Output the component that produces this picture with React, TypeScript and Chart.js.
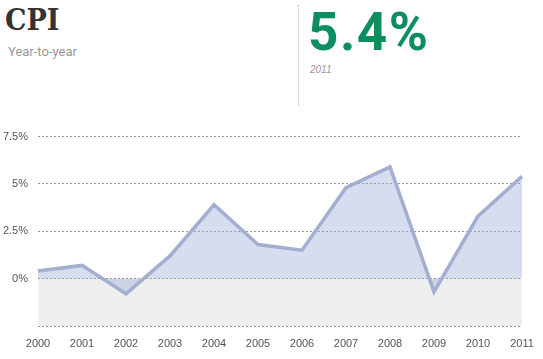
import React, { useEffect, useRef } from "react";
import { Chart, registerables } from "chart.js";

Chart.register(...registerables);

const years = ["2000","2001","2002","2003","2004","2005","2006","2007","2008","2009","2010","2011"];
const cpi = [0.4, 0.7, -0.8, 1.2, 3.9, 1.8, 1.5, 4.8, 5.9, -0.7, 3.3, 5.4];
const yTicks = [-2.5, 0, 2.5, 5, 7.5];
const yTickLabels = ["", "0%", "2.5%", "5%", "7.5%"];

const belowZeroPlugin = {
  id: "belowZero",
  beforeDraw(chart: any) {
    const { ctx, chartArea, scales } = chart;
    const y0 = scales.y.getPixelForValue(0);
    ctx.save();
    ctx.fillStyle = "#efefef";
    ctx.fillRect(chartArea.left, y0, chartArea.right - chartArea.left, chartArea.bottom - y0);
    ctx.restore();
  },
};

export default function App() {
  const ref = useRef<HTMLCanvasElement | null>(null);
  useEffect(() => {
    if (!ref.current) return;
    const chart = new Chart(ref.current, {
      type: "line",
      data: {
        labels: years,
        datasets: [
          {
            data: cpi,
            borderColor: "rgb(163,174,208)",
            borderWidth: 3.5,
            backgroundColor: "rgba(138,161,212,0.36)",
            fill: "origin",
            pointRadius: 0,
            tension: 0,
          },
        ],
      },
      options: {
        animation: false,
        responsive: false,
        maintainAspectRatio: false,
        layout: { padding: { top: 15, right: 21, bottom: 0, left: 0 } },
        plugins: { legend: { display: false }, tooltip: { enabled: false } },
        scales: {
          x: {
            offset: false,
            grid: { display: false },
            border: { display: false },
            ticks: {
              color: "#555",
              font: { family: "Liberation Sans, Arial", size: 11 },
              padding: 3,
              maxRotation: 0,
              autoSkip: false,
            },
            afterFit(scale: any) {
              scale.height = 33;
            },
          },
          y: {
            min: -2.5,
            max: 7.5,
            afterBuildTicks(scale: any) {
              scale.ticks = yTicks.map((v) => ({ value: v }));
            },
            grid: {
              color: "#999",
              lineWidth: 1,
              drawTicks: false,
            },
            border: { display: false, dash: [2, 2] },
            ticks: {
              color: "#555",
              font: { family: "Liberation Sans, Arial", size: 11 },
              padding: 10,
              callback: (v: any) => {
                const i = yTicks.indexOf(Number(v));
                return i >= 0 ? yTickLabels[i] : "";
              },
            },
            afterFit(scale: any) {
              scale.width = 38;
            },
          },
        },
      },
      plugins: [belowZeroPlugin],
    } as any);
    return () => chart.destroy();
  }, []);

  return (
    <div style={{ position: "absolute", left: 0, top: 0, width: 543, height: 359, background: "#fff", overflow: "hidden" }}>
      <div style={{ position: "absolute", left: 5, top: 2, fontFamily: "DejaVu Serif Condensed, DejaVu Serif", fontWeight: "bold", fontSize: 30, color: "#333", lineHeight: "36px" }}>CPI</div>
      <div style={{ position: "absolute", left: 8, top: 44, fontFamily: "Roboto, Noto Sans", fontSize: 13, color: "#999", lineHeight: "16px" }}>Year-to-year</div>
      <div style={{ position: "absolute", left: 298, top: 5, width: 0, height: 100, borderLeft: "1px dotted #bbb" }} />
      <div style={{ position: "absolute", left: 308, top: 2, fontFamily: "Roboto, Noto Sans", fontWeight: "bold", fontSize: 53, color: "#0e8e5e", lineHeight: "60px", letterSpacing: 1.5 }}>5.4%</div>
      <div style={{ position: "absolute", left: 310, top: 63, fontFamily: "Liberation Sans, Arial", fontStyle: "italic", fontSize: 10, color: "#999", lineHeight: "14px" }}>2011</div>
      <canvas ref={ref} width={543} height={239} style={{ position: "absolute", left: 0, top: 120, width: 543, height: 239 }} />
    </div>
  );
}
